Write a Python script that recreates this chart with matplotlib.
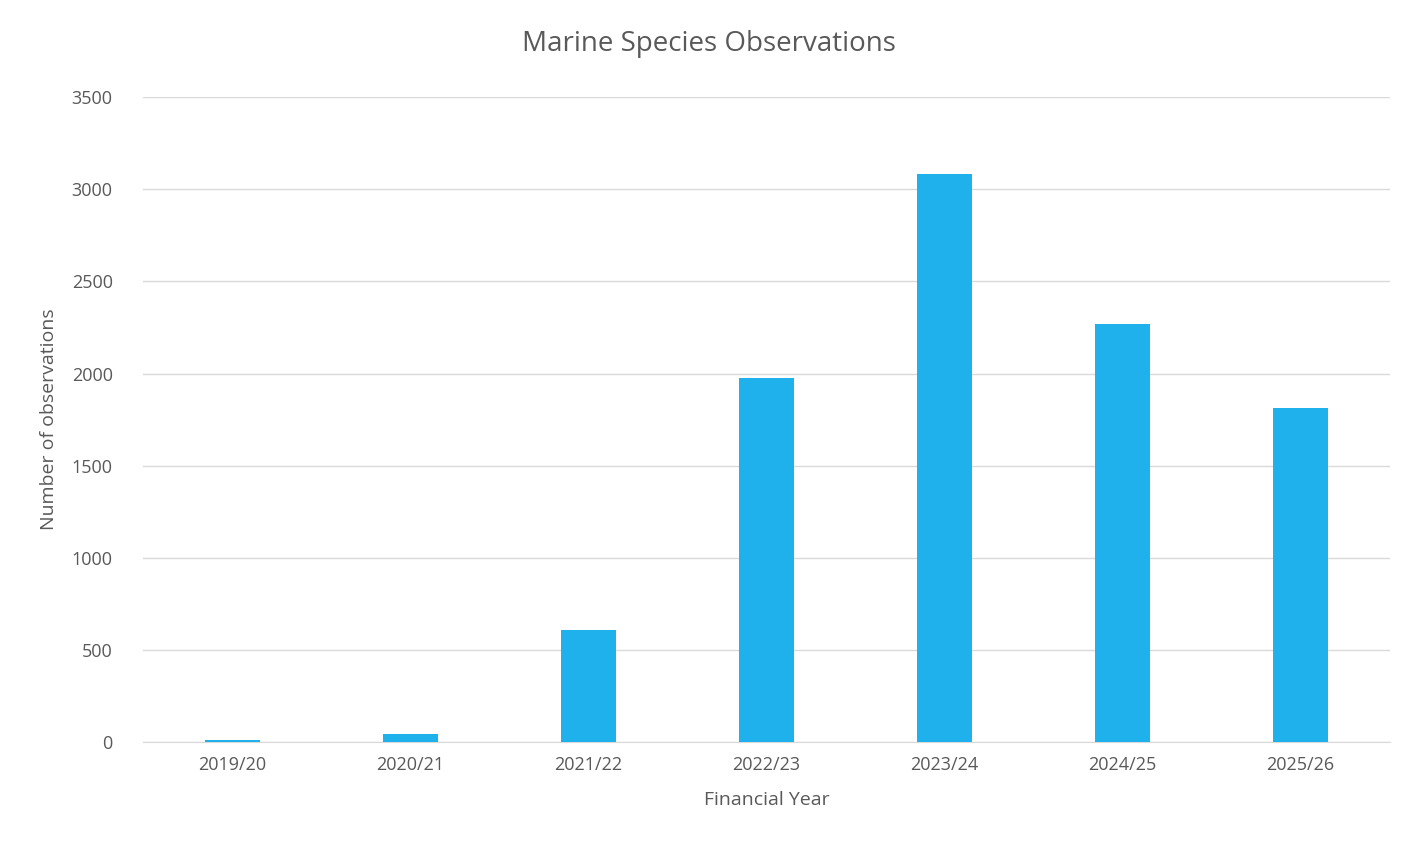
import matplotlib.pyplot as plt

years = ["2019/20", "2020/21", "2021/22", "2022/23", "2023/24", "2024/25", "2025/26"]
observations = [10, 45, 608, 1975, 3082, 2268, 1812]

plt.rcParams['font.family'] = ['Open Sans', 'DejaVu Sans']
grey = "#595959"

fig = plt.figure(figsize=(14.18, 8.6), dpi=100)
ax = fig.add_axes([0.101, 0.137, 0.879, 0.75])
ax.bar(years, observations, width=0.31, color="#1FB1EB", zorder=3)
ax.set_ylim(0, 3500)
ax.set_yticks(range(0, 3501, 500))
ax.set_xlim(-0.5, len(years) - 0.5)
ax.grid(axis="y", color="#D9D9D9", linewidth=1, zorder=0)
for s in ["top", "right", "left"]:
    ax.spines[s].set_visible(False)
ax.spines["bottom"].set_color("#D9D9D9")
ax.tick_params(axis="both", length=0, labelsize=13, colors=grey, pad=10)
ax.tick_params(axis="y", pad=22)
ax.set_xlabel("Financial Year", fontsize=14, color=grey, labelpad=12)
ax.set_ylabel("Number of observations", fontsize=14, color=grey, labelpad=10)
fig.suptitle("Marine Species Observations", fontsize=20, color=grey, y=0.965)
fig.savefig("out.png")
